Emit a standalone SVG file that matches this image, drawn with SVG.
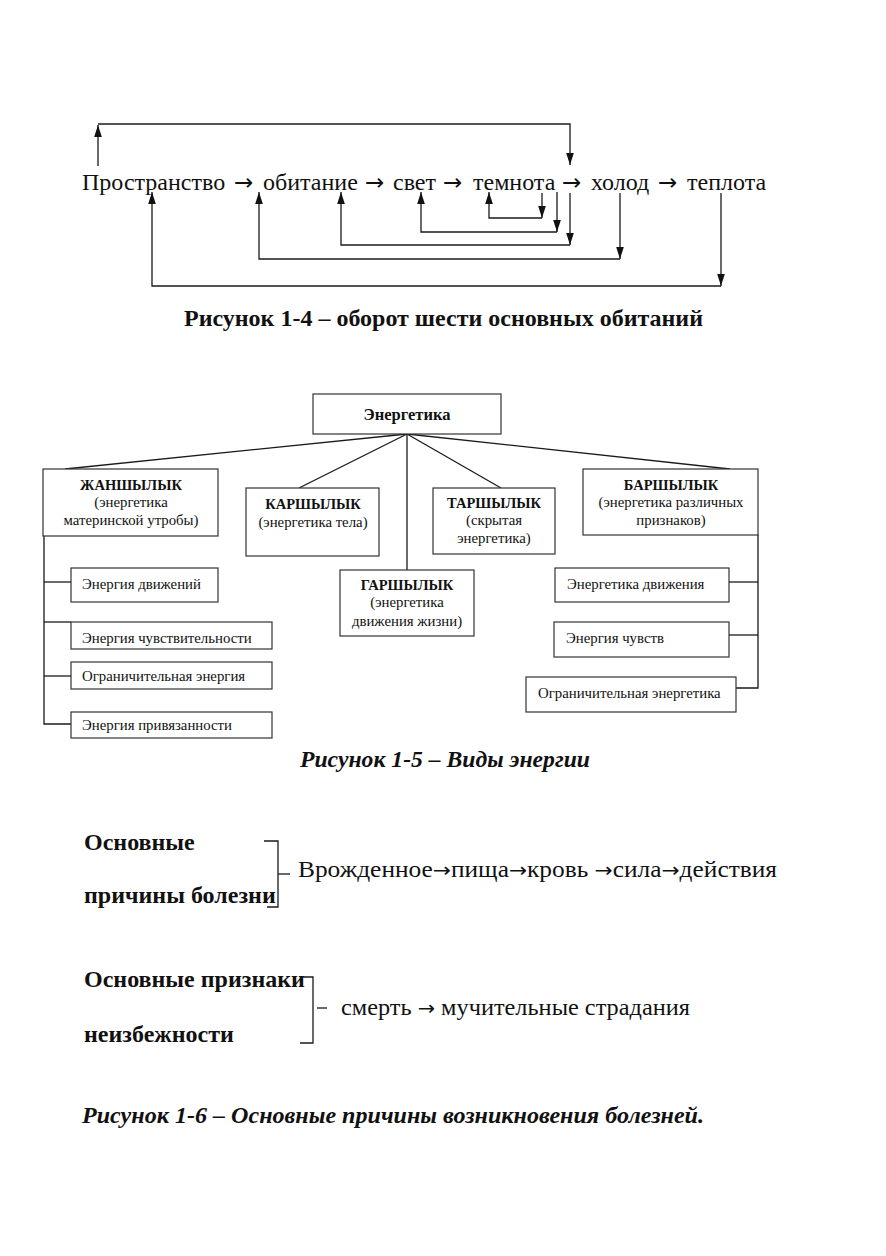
<svg xmlns="http://www.w3.org/2000/svg" width="886" height="1256" viewBox="0 0 886 1256">
<style>
text{font-family:"Liberation Serif","Times New Roman",serif;fill:#111}
.w{font-size:24px}
.ar{font-family:"DejaVu Sans",sans-serif;font-weight:normal;font-style:normal}
.cap{font-size:24px;font-weight:bold}
.capi{font-size:24px;font-weight:bold;font-style:italic}
.s{font-size:14.8px}
.sb{font-size:14.5px;font-weight:bold}
.f6{font-size:24px;font-weight:bold}
.f6r{font-size:23.5px}
.ln{fill:none;stroke:#1a1a1a;stroke-width:1.3}
.bx{fill:#fff;stroke:#333;stroke-width:1.2}
.c{text-anchor:middle}
</style>
<defs>
<marker id="ah" markerUnits="userSpaceOnUse" markerWidth="12" markerHeight="8" refX="11" refY="3.5" orient="auto" viewBox="0 0 11 7">
<path d="M0,0 L11,3.5 L0,7 Z" fill="#111"/>
</marker>
</defs>
<rect width="886" height="1256" fill="#fff"/>

<!-- Figure 1-4 -->
<g id="fig14-words">
<text id="n-prostranstvo" class="w" x="82" y="190">Пространство</text>
<text class="w ar" x="234" y="190" style="font-size:23px">→</text>
<text id="n-obitanie" class="w" x="263" y="190">обитание</text>
<text class="w ar" x="365" y="190" style="font-size:23px">→</text>
<text id="n-svet" class="w" x="393" y="190">свет</text>
<text class="w ar" x="443" y="190" style="font-size:23px">→</text>
<text id="n-temnota" class="w" x="473" y="190">темнота</text>
<text class="w ar" x="562" y="190" style="font-size:23px">→</text>
<text id="n-holod" class="w" x="591" y="190">холод</text>
<text class="w ar" x="658" y="190" style="font-size:23px">→</text>
<text id="n-teplota" class="w" x="687" y="190">теплота</text>
</g>
<g id="fig14-connectors">
<path class="ln" d="M98,166 V125" marker-end="url(#ah)"/>
<path class="ln" d="M98,124 H570 V165" marker-end="url(#ah)"/>
<path class="ln" d="M542,193 V218" marker-end="url(#ah)"/>
<path class="ln" d="M542,218 H489 V192" marker-end="url(#ah)"/>
<path class="ln" d="M557,192 V232" marker-end="url(#ah)"/>
<path class="ln" d="M557,232 H421 V192" marker-end="url(#ah)"/>
<path class="ln" d="M570,193 V245" marker-end="url(#ah)"/>
<path class="ln" d="M570,245 H341 V192" marker-end="url(#ah)"/>
<path class="ln" d="M620,193 V259" marker-end="url(#ah)"/>
<path class="ln" d="M620,259 H259 V192" marker-end="url(#ah)"/>
<path class="ln" d="M721,193 V286" marker-end="url(#ah)"/>
<path class="ln" d="M721,286 H152 V192" marker-end="url(#ah)"/>
</g>
<text class="cap" x="184" y="326" textLength="519" lengthAdjust="spacingAndGlyphs">Рисунок 1-4 – оборот шести основных обитаний</text>

<!-- Figure 1-5 -->
<g id="fig15-connectors">
<path class="ln" d="M407,434 L65,469"/>
<path class="ln" d="M407,434 L299,488"/>
<path class="ln" d="M407,434 V570"/>
<path class="ln" d="M407,434 L501,488"/>
<path class="ln" d="M407,434 L730,469"/>
<path class="ln" d="M44,536 V724 H71"/>
<path class="ln" d="M44,582 H71"/>
<path class="ln" d="M44,622 H71"/>
<path class="ln" d="M44,676 H71"/>
<path class="ln" d="M758,535 V688 H736"/>
<path class="ln" d="M758,582 H729"/>
<path class="ln" d="M758,635 H729"/>
</g>
<g id="n-energetika">
<rect class="bx" x="313" y="394" width="188" height="40"/>
<text class="c" x="407" y="420" style="font-size:16.5px;font-weight:bold">Энергетика</text>
</g>
<g id="n-zhanshylyk">
<rect class="bx" x="43" y="469" width="175" height="67"/>
<text class="sb c" x="131" y="490">ЖАНШЫЛЫК</text>
<text class="s c" x="131" y="507">(энергетика</text>
<text class="s c" x="131" y="525">материнской утробы)</text>
</g>
<g id="n-karshylyk">
<rect class="bx" x="246" y="488" width="133" height="68"/>
<text class="sb c" x="313" y="509">КАРШЫЛЫК</text>
<text class="s c" x="313" y="527">(энергетика тела)</text>
</g>
<g id="n-garshylyk">
<rect class="bx" x="340" y="570" width="134" height="66"/>
<text class="sb c" x="407" y="590">ГАРШЫЛЫК</text>
<text class="s c" x="407" y="607">(энергетика</text>
<text class="s c" x="407" y="626">движения жизни)</text>
</g>
<g id="n-tarshylyk">
<rect class="bx" x="433" y="488" width="122" height="66"/>
<text class="sb c" x="494" y="508">ТАРШЫЛЫК</text>
<text class="s c" x="494" y="525">(скрытая</text>
<text class="s c" x="494" y="543">энергетика)</text>
</g>
<g id="n-barshylyk">
<rect class="bx" x="583" y="469" width="175" height="66"/>
<text class="sb c" x="671" y="490">БАРШЫЛЫК</text>
<text class="s c" x="671" y="507">(энергетика различных</text>
<text class="s c" x="671" y="525">признаков)</text>
</g>
<g id="n-en-dvizheniy">
<rect class="bx" x="71" y="568" width="147" height="34"/>
<text class="s" x="82" y="589">Энергия движений</text>
</g>
<g id="n-en-chuvstvit">
<rect class="bx" x="71" y="622" width="201" height="27"/>
<text class="s" x="82" y="643">Энергия чувствительности</text>
</g>
<g id="n-ogr-energiya">
<rect class="bx" x="71" y="662" width="201" height="27"/>
<text class="s" x="82" y="681">Ограничительная энергия</text>
</g>
<g id="n-en-privyaz">
<rect class="bx" x="71" y="712" width="201" height="26"/>
<text class="s" x="82" y="730">Энергия привязанности</text>
</g>
<g id="n-energetika-dvizh">
<rect class="bx" x="555" y="568" width="174" height="34"/>
<text class="s" x="567" y="589">Энергетика движения</text>
</g>
<g id="n-en-chuvstv">
<rect class="bx" x="554" y="622" width="175" height="35"/>
<text class="s" x="566" y="643">Энергия чувств</text>
</g>
<g id="n-ogr-energetika">
<rect class="bx" x="526" y="677" width="210" height="35"/>
<text class="s" x="538" y="698">Ограничительная энергетика</text>
</g>
<text class="capi" x="300" y="767" textLength="290" lengthAdjust="spacingAndGlyphs">Рисунок 1-5 – Виды энергии</text>

<!-- Figure 1-6 -->
<g id="fig16-a">
<text class="f6" x="84" y="850">Основные</text>
<text class="f6" x="84" y="903">причины болезни</text>
<text class="f6r" x="298" y="877" textLength="479" lengthAdjust="spacingAndGlyphs">Врожденное<tspan class="ar" style="font-size:20px">→</tspan>пища<tspan class="ar" style="font-size:20px">→</tspan>кровь <tspan class="ar" style="font-size:20px">→</tspan>сила<tspan class="ar" style="font-size:20px">→</tspan>действия</text>
</g>
<g id="fig16-b">
<text class="f6" x="84" y="987">Основные признаки</text>
<text class="f6" x="84" y="1042">неизбежности</text>
<text class="f6r" x="341" y="1015" textLength="349" lengthAdjust="spacingAndGlyphs">смерть <tspan class="ar" style="font-size:20px">→</tspan> мучительные страдания</text>
</g>
<g id="fig16-brackets">
<path class="ln" d="M264,841 H278 V907 H267"/>
<path class="ln" d="M278,874 H290"/>
<path class="ln" d="M303,977 H313 V1043 H300"/>
<path class="ln" d="M317,1008 H327"/>
</g>
<text class="capi" x="82" y="1123" textLength="622" lengthAdjust="spacingAndGlyphs">Рисунок 1-6 – Основные причины возникновения болезней.</text>
</svg>
